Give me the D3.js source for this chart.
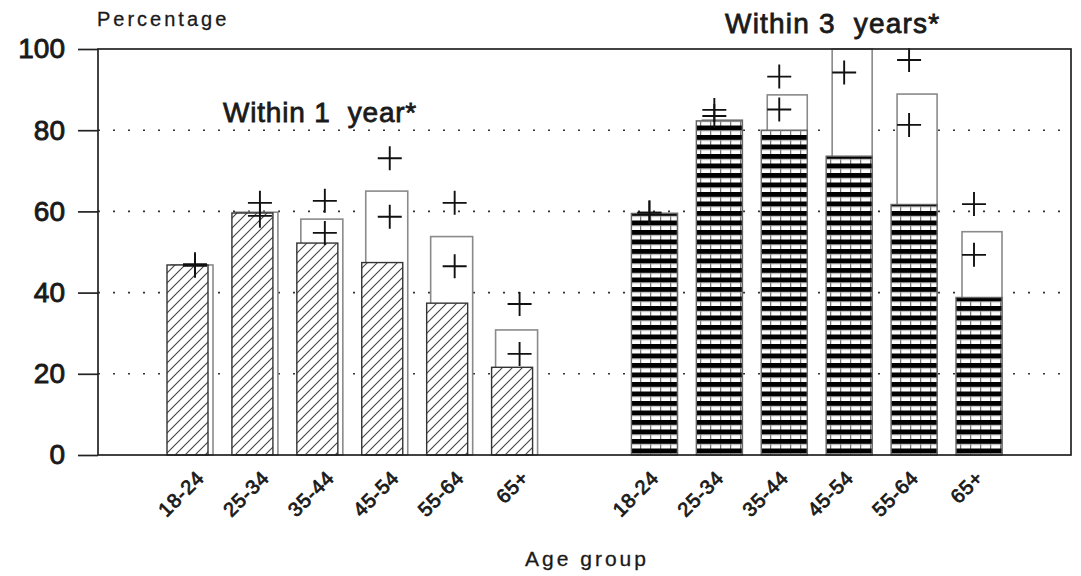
<!DOCTYPE html>
<html>
<head>
<meta charset="utf-8">
<script src="https://cdn.jsdelivr.net/npm/d3@7"></script>
<style>
  html, body { margin: 0; padding: 0; background: #fff; }
  svg { display: block; font-family: "Liberation Sans", Arial, sans-serif; }
</style>
</head>
<body>
<svg id="chart" width="1081" height="576"></svg>
<script>
// ---- data ----
const ages = ["18-24", "25-34", "35-44", "45-54", "55-64", "65+"];
const periods = ["Within 1 year*", "Within 3 years*"];
const yTicks = [0, 20, 40, 60, 80, 100];
const gridTicks = [20, 40, 60, 80];

// Within 1 year
const year1Bars    = [46.8, 59.6, 52.2, 47.4, 37.4, 21.6];
const year1Outline = [46.8, 59.8, 58.1, 65.0, 53.8, 30.8];
const year1Upper   = [47.0, 62.1, 62.6, 73.1, 62.1, 37.2];
const year1Lower   = [46.6, 58.9, 54.7, 58.7, 46.5, 24.9];

// Within 3 years
const year3Bars    = [59.5, 82.3, 80.0, 73.6, 61.7, 38.8];
const year3Outline = [59.5, 82.5, 88.7, 100, 88.9, 55.0];
const year3Upper   = [59.7, 85.0, 93.2, null, 97.3, 61.8];
const year3Lower   = [59.7, 83.5, 85.1, 94.2, 81.3, 49.3];

// ---- layout ----
const svg = d3.select("#chart");
const plotL = 98, plotR = 1071, plotT = 49, plotB = 455;
const ink = "#1a1a1a";

const slots = [...ages.map(a => "1|" + a), "gap", ...ages.map(a => "3|" + a)];
const x = d3.scalePoint().domain(slots).range([195, 974]);
const y = d3.scaleLinear().domain([0, 100]).range([plotB, plotT]);

// patterns
const defs = svg.append("defs");
const hatch = defs.append("pattern").attr("id", "hatch")
  .attr("patternUnits", "userSpaceOnUse").attr("width", 10).attr("height", 10);
hatch.append("rect").attr("width", 10).attr("height", 10).attr("fill", "#fff");
hatch.append("path").attr("d", "M-1,1 l2,-2 M0,10 l10,-10 M9,11 l2,-2")
  .attr("stroke", "#444").attr("stroke-width", 1.1);

const check = defs.append("pattern").attr("id", "check")
  .attr("patternUnits", "userSpaceOnUse").attr("width", 10).attr("height", 9.5)
  .attr("y", 2);
check.append("rect").attr("width", 10).attr("height", 9.5).attr("fill", "#fff");
check.append("rect").attr("y", 0).attr("width", 10).attr("height", 5).attr("fill", "#000");
check.append("line").attr("x1", 0.6).attr("x2", 0.6).attr("y1", 5).attr("y2", 9.5)
  .attr("stroke", "#777").attr("stroke-width", 1.3);
check.append("line").attr("x1", 0).attr("x2", 10).attr("y1", 5.5).attr("y2", 5.5)
  .attr("stroke", "#aaa").attr("stroke-width", 0.7);

// gridlines
svg.append("g").selectAll("line").data(gridTicks).join("line")
  .attr("x1", plotL).attr("x2", plotR)
  .attr("y1", d => y(d)).attr("y2", d => y(d))
  .attr("stroke", "#333").attr("stroke-width", 1.6)
  .attr("stroke-dasharray", "2 13");

// build records
const groups = [
  { key: "1", bars: year1Bars, outline: year1Outline, upper: year1Upper, lower: year1Lower,
    fill: "url(#hatch)", stroke: "#333", barOff: -28, barW: 41, outOff: -24, outW: 42 },
  { key: "3", bars: year3Bars, outline: year3Outline, upper: year3Upper, lower: year3Lower,
    fill: "url(#check)", stroke: "#666", barOff: -18, barW: 46, outOff: -12, outW: 40 }
];

const marks = svg.append("g");
groups.forEach(g => {
  const recs = ages.map((a, i) => ({ slot: g.key + "|" + a, bar: g.bars[i], out: g.outline[i],
                                      up: g.upper[i], lo: g.lower[i] }));
  // outline (white) bars behind
  marks.append("g").selectAll("rect").data(recs).join("rect")
    .attr("x", d => x(d.slot) + g.outOff)
    .attr("width", g.outW)
    .attr("y", d => y(d.out))
    .attr("height", d => y(0) - y(d.out))
    .attr("fill", "#fff").attr("stroke", "#8a8a8a").attr("stroke-width", 1.6);
  // patterned bars
  marks.append("g").selectAll("rect").data(recs).join("rect")
    .attr("x", d => x(d.slot) + g.barOff)
    .attr("width", g.barW)
    .attr("y", d => y(d.bar))
    .attr("height", d => y(0) - y(d.bar))
    .attr("fill", g.fill).attr("stroke", g.stroke).attr("stroke-width", 1.4);
  // plus markers
  const pts = [];
  recs.forEach(d => {
    if (d.up != null) pts.push({ slot: d.slot, v: d.up });
    if (d.lo != null) pts.push({ slot: d.slot, v: d.lo });
  });
  marks.append("g").selectAll("path").data(pts).join("path")
    .attr("d", d => {
      const cx = x(d.slot), cy = y(d.v);
      return `M${cx - 12},${cy}H${cx + 12}M${cx},${cy - 12}V${cy + 12}`;
    })
    .attr("fill", "none").attr("stroke", "#111").attr("stroke-width", 1.9);
});

// frame
svg.append("rect").attr("x", plotL).attr("y", plotT)
  .attr("width", plotR - plotL).attr("height", plotB - plotT)
  .attr("fill", "none").attr("stroke", "#222").attr("stroke-width", 1.7);

// y axis
const yAxis = svg.append("g").attr("transform", `translate(${plotL},0)`)
  .call(d3.axisLeft(y).tickValues(yTicks).tickSize(20).tickPadding(13));
yAxis.select(".domain").remove();
yAxis.selectAll(".tick line").attr("stroke", "#222").attr("stroke-width", 1.7);
yAxis.selectAll(".tick text").attr("font-size", 28).attr("fill", ink)
  .attr("stroke", ink).attr("stroke-width", 0.9)
  .attr("font-family", "Liberation Sans, Arial, sans-serif");

// x axis labels
const xAxis = svg.append("g").attr("transform", `translate(0,${plotB})`)
  .call(d3.axisBottom(x).tickValues(slots.filter(s => s !== "gap"))
    .tickSize(0).tickFormat(d => d.split("|")[1]));
xAxis.select(".domain").remove();
xAxis.selectAll(".tick text")
  .attr("x", 10).attr("y", 24).attr("dy", 0)
  .attr("transform", "rotate(-45,10,24)")
  .attr("text-anchor", "end")
  .attr("font-size", 20).attr("letter-spacing", 0.8).attr("fill", ink)
  .attr("stroke", ink).attr("stroke-width", 0.8)
  .attr("font-family", "Liberation Sans, Arial, sans-serif");

// titles
svg.append("text").attr("x", 97).attr("y", 26).attr("font-size", 20)
  .attr("letter-spacing", 3).attr("fill", ink).attr("stroke", ink).attr("stroke-width", 0.3)
  .text("Percentage");
svg.append("text").attr("x", 587).attr("y", 566).attr("font-size", 21)
  .attr("text-anchor", "middle").attr("letter-spacing", 3).attr("fill", ink)
  .attr("stroke", ink).attr("stroke-width", 0.3).text("Age group");
svg.append("text").attr("x", 223).attr("y", 122).attr("font-size", 28)
  .attr("letter-spacing", 0.8).attr("fill", ink).attr("stroke", ink).attr("stroke-width", 0.8)
  .attr("xml:space", "preserve").text(periods[0].replace(" 1 ", " 1  "));
svg.append("text").attr("x", 725).attr("y", 33).attr("font-size", 28)
  .attr("letter-spacing", 1.2).attr("fill", ink).attr("stroke", ink).attr("stroke-width", 0.8)
  .attr("xml:space", "preserve").text(periods[1].replace(" 3 ", " 3  "));
</script>
</body>
</html>
